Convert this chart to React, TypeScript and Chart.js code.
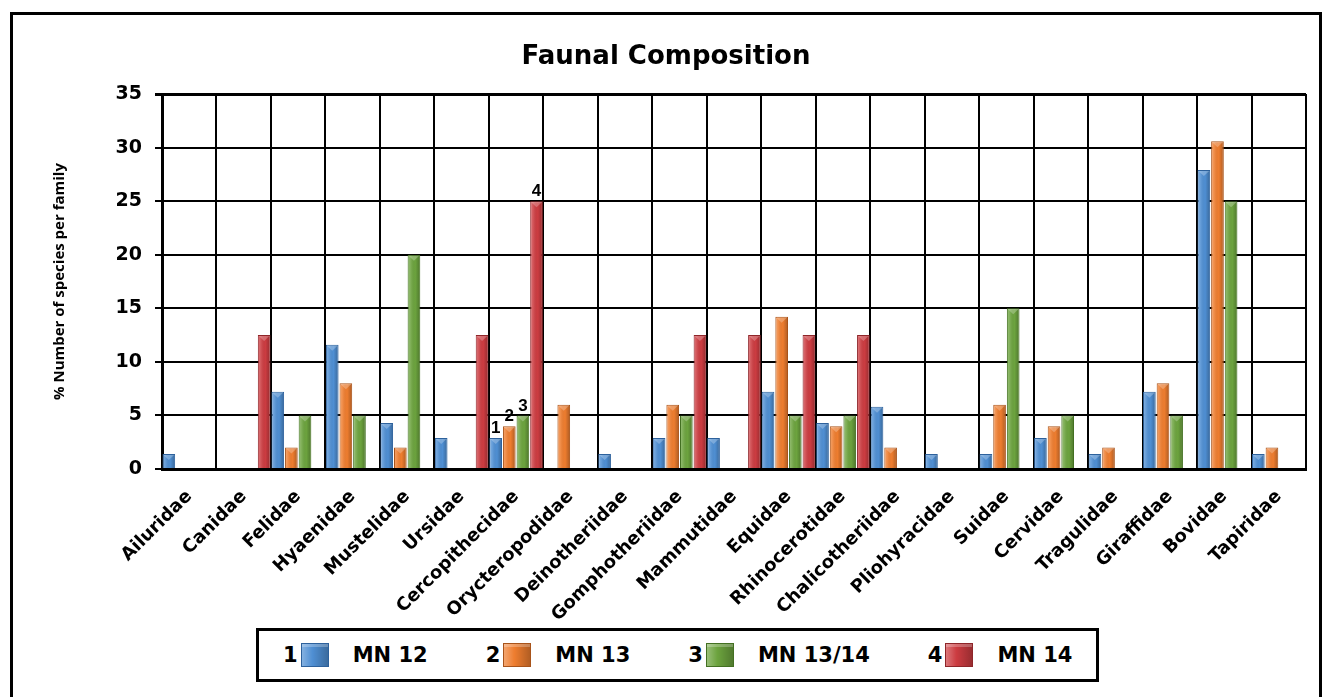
import React, { useEffect, useRef } from "react";
import { Chart, registerables } from "chart.js";

Chart.register(...registerables);

const families = [
  "Ailuridae", "Canidae", "Felidae", "Hyaenidae", "Mustelidae", "Ursidae",
  "Cercopithecidae", "Orycteropodidae", "Deinotheriidae", "Gomphotheriidae",
  "Mammutidae", "Equidae", "Rhinocerotidae", "Chalicotheriidae", "Pliohyracidae",
  "Suidae", "Cervidae", "Tragulidae", "Giraffidae", "Bovidae", "Tapiridae",
];

const seriesNames = ["MN 12", "MN 13", "MN 13/14", "MN 14"];
const seriesKeys = ["1", "2", "3", "4"];
const markedFamily = "Cercopithecidae";

const mn12 = [1.4, null, 7.2, 11.6, 4.3, 2.9, 2.9, null, 1.4, 2.9, 2.9, 7.2, 4.3, 5.8, 1.4, 1.4, 2.9, 1.4, 7.2, 27.9, 1.4];
const mn13 = [null, null, 2.0, 8.0, 2.0, null, 4.0, 6.0, null, 6.0, null, 14.2, 4.0, 2.0, null, 6.0, 4.0, 2.0, 8.0, 30.6, 2.0];
const mn1314 = [null, null, 5, 5, 20, null, 5, null, null, 5, null, 5, 5, null, null, 15, 5, null, 5, 25, null];
const mn14 = [null, 12.5, null, null, null, 12.5, 25, null, null, 12.5, 12.5, 12.5, 12.5, null, null, null, null, null, null, null, null];

const yTicks = [0, 5, 10, 15, 20, 25, 30, 35];

const fills = ["#4f8fd3", "#ee7d2f", "#6ca33e", "#cc3c41"];
const edgeColors = ["#2d619c", "#a8531a", "#437022", "#8e2529"];

const TICK_FONT = "'DejaVu Sans', Verdana, sans-serif";

const bevelPlugin = {
  id: "bevel",
  afterDatasetsDraw(chart: any) {
    const ctx = chart.ctx;
    ctx.save();
    chart.data.datasets.forEach((ds: any, i: number) => {
      const meta = chart.getDatasetMeta(i);
      meta.data.forEach((el: any, j: number) => {
        if (ds.data[j] == null) return;
        const { x, y, base, width } = el.getProps(["x", "y", "base", "width"], true);
        const l = x - width / 2;
        const r = x + width / 2;
        const g = ctx.createLinearGradient(l, 0, r, 0);
        g.addColorStop(0, "rgba(255,255,255,0.30)");
        g.addColorStop(0.25, "rgba(255,255,255,0.12)");
        g.addColorStop(0.6, "rgba(0,0,0,0)");
        g.addColorStop(1, "rgba(0,0,0,0.28)");
        ctx.fillStyle = g;
        ctx.fillRect(l + 1, y + 1, width - 2, base - y - 1);
        ctx.fillStyle = "rgba(255,255,255,0.25)";
        ctx.beginPath();
        ctx.moveTo(l + 1, y + 1);
        ctx.lineTo(r - 1, y + 1);
        ctx.lineTo(x, y + Math.min(6, (base - y) / 2));
        ctx.closePath();
        ctx.fill();
      });
    });
    ctx.restore();
  },
};

const numberLabelPlugin = {
  id: "numberLabels",
  afterDatasetsDraw(chart: any) {
    const idx = families.indexOf(markedFamily);
    const ctx = chart.ctx;
    ctx.save();
    ctx.font = "bold 17px 'Liberation Sans Narrow', 'Liberation Sans', Arial, sans-serif";
    ctx.fillStyle = "#000";
    ctx.textAlign = "center";
    ctx.textBaseline = "bottom";
    chart.data.datasets.forEach((ds: any, i: number) => {
      const meta = chart.getDatasetMeta(i);
      const el = meta.data[idx];
      if (!el || ds.data[idx] == null) return;
      const { x, y } = el.getProps(["x", "y"], true);
      ctx.fillText(seriesKeys[i], x, y - 1);
    });
    ctx.restore();
  },
};

function Swatch({ i }: { i: number }) {
  return (
    <span
      style={{
        display: "inline-block",
        flex: "none",
        width: 28,
        height: 24,
        boxSizing: "border-box",
        border: `1px solid ${edgeColors[i]}`,
        background: `linear-gradient(90deg, rgba(255,255,255,0.3), rgba(255,255,255,0) 40%, rgba(0,0,0,0.25)), ${fills[i]}`,
        boxShadow: "inset 0 3px 0 rgba(255,255,255,0.25)",
      }}
    />
  );
}

export default function App() {
  const ref = useRef<HTMLCanvasElement>(null);

  useEffect(() => {
    const seriesData = [mn12, mn13, mn1314, mn14];
    const chart = new Chart(ref.current as HTMLCanvasElement, {
      type: "bar",
      data: {
        labels: families,
        datasets: seriesNames.map((name, i) => ({
          label: name,
          data: seriesData[i] as any,
          backgroundColor: fills[i],
          borderColor: edgeColors[i],
          borderWidth: 1,
          categoryPercentage: 1.0,
          barPercentage: 0.93,
        })),
      },
      options: {
        animation: false,
        responsive: true,
        maintainAspectRatio: false,
        layout: { padding: { top: 94, right: 17, bottom: 0, left: 0 } },
        plugins: {
          legend: { display: false },
          title: { display: false },
          tooltip: { enabled: false },
        },
        scales: {
          x: {
            afterFit: (s: any) => { s.height = 228; },
            grid: {
              color: "#000",
              lineWidth: 2,
              drawTicks: false,
              offset: true,
            },
            border: { color: "#000", width: 3 },
            ticks: {
              color: "#000",
              font: { family: TICK_FONT, weight: "bold", size: 18 },
              minRotation: 45,
              maxRotation: 45,
              autoSkip: false,
              padding: 17,
            },
          },
          y: {
            min: 0,
            max: 35,
            afterFit: (s: any) => { s.width = 162; },
            afterBuildTicks: (s: any) => { s.ticks = yTicks.map((v) => ({ value: v })); },
            grid: {
              color: "#000",
              lineWidth: (c: any) => (c.tick && c.tick.value === 35 ? 3 : 2),
              tickLength: 7,
              drawTicks: true,
            },
            border: { color: "#000", width: 3 },
            ticks: {
              color: "#000",
              font: { family: TICK_FONT, weight: "bold", size: 19 },
              padding: 13,
            },
            title: {
              display: true,
              text: "% Number of species per family",
              color: "#000",
              font: { family: "'Open Sans', sans-serif", weight: "bold", size: 15 },
              padding: { top: 51, bottom: 0 },
            },
          },
        },
      },
      plugins: [bevelPlugin, numberLabelPlugin],
    });
    return () => chart.destroy();
  }, []);

  return (
    <div style={{ position: "fixed", left: 0, top: 0, width: 1323, height: 697, background: "#fff", overflow: "hidden" }}>
      <div
        style={{
          position: "absolute",
          left: 10,
          top: 12,
          width: 1312,
          height: 720,
          border: "3px solid #000",
          boxSizing: "border-box",
        }}
      />
      <div style={{ position: "absolute", left: 0, top: 0, width: 1323, height: 697 }}>
        <canvas ref={ref} />
      </div>
      <div
        style={{
          position: "absolute",
          left: 10,
          width: 1312,
          top: 40,
          textAlign: "center",
          fontFamily: TICK_FONT,
          fontWeight: "bold",
          fontSize: 26,
          lineHeight: "30px",
          color: "#000",
          whiteSpace: "nowrap",
        }}
      >
        Faunal Composition
      </div>
      <div
        style={{
          position: "absolute",
          left: 256,
          top: 628,
          width: 843,
          height: 54,
          border: "3px solid #000",
          boxSizing: "border-box",
          display: "flex",
          alignItems: "center",
          paddingLeft: 24,
          fontFamily: TICK_FONT,
          fontWeight: "bold",
          color: "#000",
          background: "#fff",
          whiteSpace: "nowrap",
        }}
      >
        {seriesNames.map((name, i) => (
          <div key={name} style={{ display: "flex", alignItems: "center", marginRight: 58, flex: "none" }}>
            <span style={{ fontSize: 21, lineHeight: "24px", marginRight: 3 }}>{seriesKeys[i]}</span>
            <Swatch i={i} />
            <span style={{ fontSize: 21, lineHeight: "24px", marginLeft: 24 }}>{name}</span>
          </div>
        ))}
      </div>
    </div>
  );
}
